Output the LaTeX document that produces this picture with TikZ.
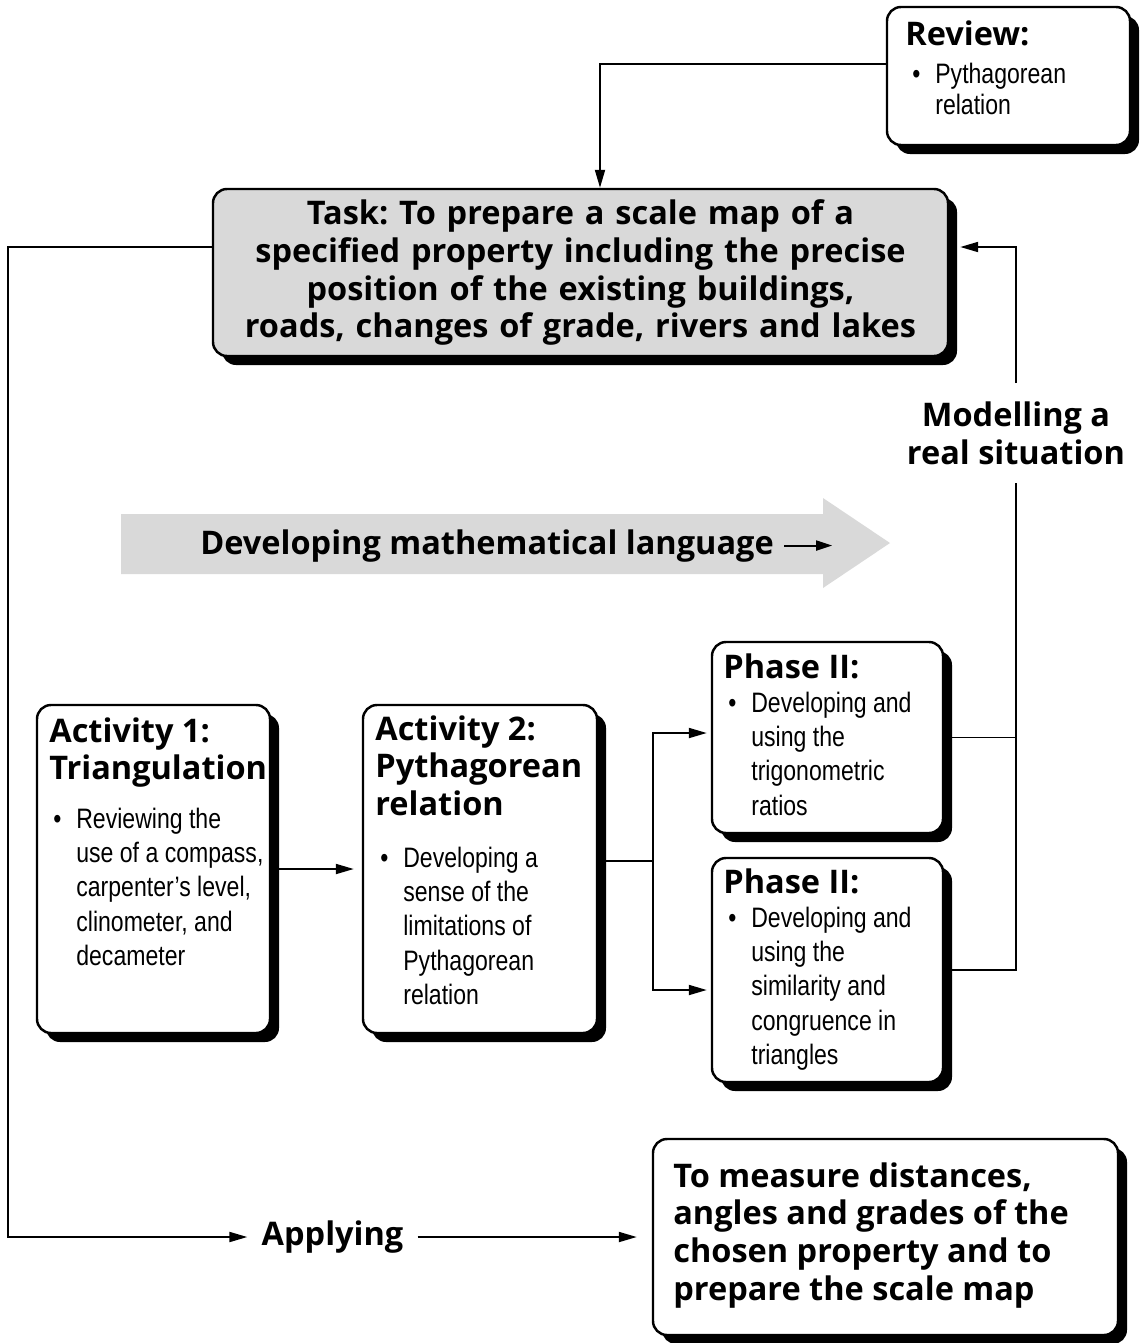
\documentclass[tikz,border=0pt]{standalone}
\usepackage{fontspec}
\setmainfont{Liberation Sans}
\newfontfamily\headfam{Open Sans}
\newfontfamily\bodyfam[FakeStretch=0.82]{Liberation Sans}
\usetikzlibrary{arrows.meta, positioning, shadows}
\definecolor{mapgrey}{RGB}{217, 217, 217}
\frenchspacing

\newcommand{\headlines}[1]{\begin{tabular}[t]{@{}l@{}}#1\end{tabular}}
\newcommand{\bulletlines}[1]{\begin{tabular}[t]{@{}l@{\hspace{8.5pt}}l@{}}\textbullet & #1\end{tabular}}

\begin{document}
\begin{tikzpicture}[
        box/.style={draw=black, line width=1.4pt, fill=white, rounded corners=0.28cm,
            drop shadow={shadow xshift=0.18cm, shadow yshift=-0.18cm, fill=black, opacity=1}},
        head/.style={anchor=base west, inner sep=0pt, font=\headfam\bfseries\fontsize{18.5}{21.6}\selectfont},
        body/.style={anchor=base west, inner sep=0pt, font=\bodyfam\fontsize{16}{19.6}\selectfont},
        arr/.style={-{Triangle[length=0.36cm, width=0.2cm]}, line width=1.1pt},
        link/.style={line width=1.1pt}
    ]
        \useasboundingbox (0,0) rectangle (22.86,-26.86);

        % Review
        \node[box, minimum width=4.86cm, minimum height=2.76cm] (review) at (20.17,-1.52) {};
        \node[head] (revhead) at (18.1,-0.9) {Review:};
        \node[body, font=\bodyfam\fontsize{16}{18.2}\selectfont] (revbody) at (18.24,-1.66) {\bulletlines{Pythagorean\\ & relation}};

        % Task
        \node[box, fill=mapgrey, minimum width=14.7cm, minimum height=3.34cm, text width=13.8cm, align=center,
            font=\headfam\bfseries\fontsize{18.5}{21.6}\selectfont] (task) at (11.61,-5.45)
            {Task: To prepare a scale map of a\\ specified property including the precise\\ position of the existing buildings,\\ roads, changes of grade, rivers and lakes};

        % Developing mathematical language
        \fill[mapgrey] (2.42,-10.28) -- (16.46,-10.28) -- (16.46,-9.96) -- (17.8,-10.86) -- (16.46,-11.76) -- (16.46,-11.48) -- (2.42,-11.48) -- cycle;
        \node[head] (lang) at (4.0,-11.08) {Developing mathematical language};
        \draw[-{Triangle[length=0.32cm, width=0.2cm]}, line width=1.1pt] ([xshift=0.2cm]lang.east) -- ++(0.96,0);

        % Activity 1
        \node[box, minimum width=4.66cm, minimum height=6.56cm] (act1) at (3.07,-17.38) {};
        \node[head] (act1head) at (0.98,-14.84) {\headlines{Activity 1:\\ Triangulation}};
        \node[body] (act1body) at (1.06,-16.56) {\bulletlines{Reviewing the\\ & use of a compass,\\ & carpenter’s level,\\ & clinometer, and\\ & decameter}};

        % Activity 2
        \node[box, minimum width=4.68cm, minimum height=6.56cm] (act2) at (9.6,-17.38) {};
        \node[head] (act2head) at (7.5,-14.8) {\headlines{Activity 2:\\ Pythagorean\\ relation}};
        \node[body] (act2body) at (7.6,-17.34) {\bulletlines{Developing a\\ & sense of the\\ & limitations of\\ & Pythagorean\\ & relation}};

        % Phase II
        \node[box, minimum width=4.62cm, minimum height=3.82cm] (ph1) at (16.55,-14.75) {};
        \node[head] (ph1head) at (14.46,-13.56) {Phase II:};
        \node[body] (ph1body) at (14.56,-14.24) {\bulletlines{Developing and\\ & using the\\ & trigonometric\\ & ratios}};
        \node[box, minimum width=4.62cm, minimum height=4.48cm] (ph2) at (16.55,-19.4) {};
        \node[head] (ph2head) at (14.46,-17.86) {Phase II:};
        \node[body] (ph2body) at (14.56,-18.54) {\bulletlines{Developing and\\ & using the\\ & similarity and\\ & congruence in\\ & triangles}};

        % Labels
        \node[head, anchor=center, align=center, inner sep=0.36cm] (model) at (20.32,-8.66) {Modelling a\\ real situation};
        \node[head, anchor=center, inner sep=0.28cm] (appl) at (6.65,-24.74) {Applying};

        % To measure
        \node[box, minimum width=9.3cm, minimum height=3.92cm] (meas) at (17.71,-24.74) {};
        \node[head] (meashead) at (13.46,-23.74) {\headlines{To measure distances,\\ angles and grades of the\\ chosen property and to\\ prepare the scale map}};

        % Connectors
        \draw[arr] ([yshift=0.24cm]review.west) -| ([xshift=0.39cm]task.north);
        \coordinate (lft) at (0.16,-24.74);
        \draw[arr] ([yshift=0.51cm]task.west) -| (lft) -- (appl);
        \draw[arr, shorten >=0.3cm] (appl) -- (meas);
        \draw[arr, shorten >=0.16cm] (act1) -- (act2);
        \coordinate (split) at (13.06,-17.22);
        \draw[link] (act2.east |- split) -- (split);
        \draw[arr, shorten >=0.08cm] (split) |- ([yshift=0.09cm]ph1.west);
        \draw[arr, shorten >=0.08cm] (split) |- ([yshift=-0.4cm]ph2.west);
        \draw[link] (ph1.east) -- (ph1.east -| model.south);
        \draw[link] (ph2.east) -| (model.south);
        \draw[arr] (model.north) |- ([xshift=0.22cm, yshift=0.51cm]task.east);
    \end{tikzpicture}
\end{document}
